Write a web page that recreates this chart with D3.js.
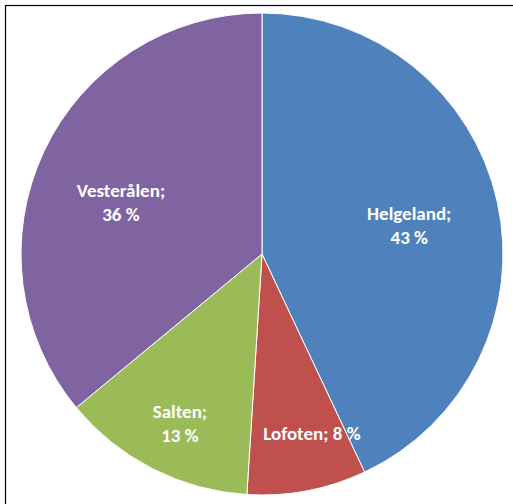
<!DOCTYPE html>
<html>
<head>
<meta charset="utf-8">
<script src="https://cdn.jsdelivr.net/npm/d3@7"></script>
<style>
  html, body { margin: 0; padding: 0; background: #fff; }
  svg { display: block; }
</style>
</head>
<body>
<script>
// Regions and their share of the total (percent)
const regions = ["Helgeland", "Lofoten", "Salten", "Vesterålen"];
const shares = [43, 8, 13, 36];
const colors = ["#4F81BD", "#C0504D", "#9BBB59", "#8064A2"];

const W = 513, H = 504;
const cx = 262, cy = 254, R = 241;

const svg = d3.select("body").append("svg")
  .attr("width", W).attr("height", H);

// Chart frame
svg.append("rect")
  .attr("x", 5.5).attr("y", 5.5)
  .attr("width", 530).attr("height", 530)
  .attr("fill", "#fff")
  .attr("stroke", "#000")
  .attr("stroke-width", 1.2);

const data = regions.map((r, i) => ({ name: r, value: shares[i], color: colors[i] }));

const pie = d3.pie().sort(null).value(d => d.value);
const arc = d3.arc().innerRadius(0).outerRadius(R);
const arcs = pie(data);

const g = svg.append("g").attr("transform", `translate(${cx},${cy})`);

g.selectAll("path.slice")
  .data(arcs)
  .join("path")
  .attr("class", "slice")
  .attr("d", arc)
  .attr("fill", d => d.data.color)
  .attr("stroke", "#fff")
  .attr("stroke-width", 1);

// Label placement: fraction of radius and angular nudge (degrees) per slice
const labelFit = [
  { k: 0.622, da: 1.8, lines: 2 },
  { k: 0.775, da: -4.7, lines: 1 },
  { k: 0.783, da: -1.2, lines: 2 },
  { k: 0.624, da: -5.0, lines: 2 }
];

const lineGap = 24;
arcs.forEach((a, i) => {
  const fit = labelFit[i];
  const mid = (a.startAngle + a.endAngle) / 2 + fit.da * Math.PI / 180;
  const x = Math.sin(mid) * R * fit.k;
  const y = -Math.cos(mid) * R * fit.k;
  const pct = `${a.data.value} %`;
  const lines = fit.lines === 2 ? [`${a.data.name};`, pct] : [`${a.data.name}; ${pct}`];
  const t = g.append("text")
    .attr("x", x).attr("y", y)
    .attr("text-anchor", "middle")
    .attr("fill", "#fff")
    .attr("font-family", "Carlito, Lato, 'Open Sans', sans-serif")
    .attr("font-weight", "bold")
    .attr("font-size", 19);
  const offset = -(lines.length - 1) * lineGap / 2;
  lines.forEach((ln, j) => {
    t.append("tspan")
      .attr("x", x)
      .attr("y", y + offset + j * lineGap)
      .attr("dominant-baseline", "central")
      .text(ln);
  });
});
</script>
</body>
</html>
